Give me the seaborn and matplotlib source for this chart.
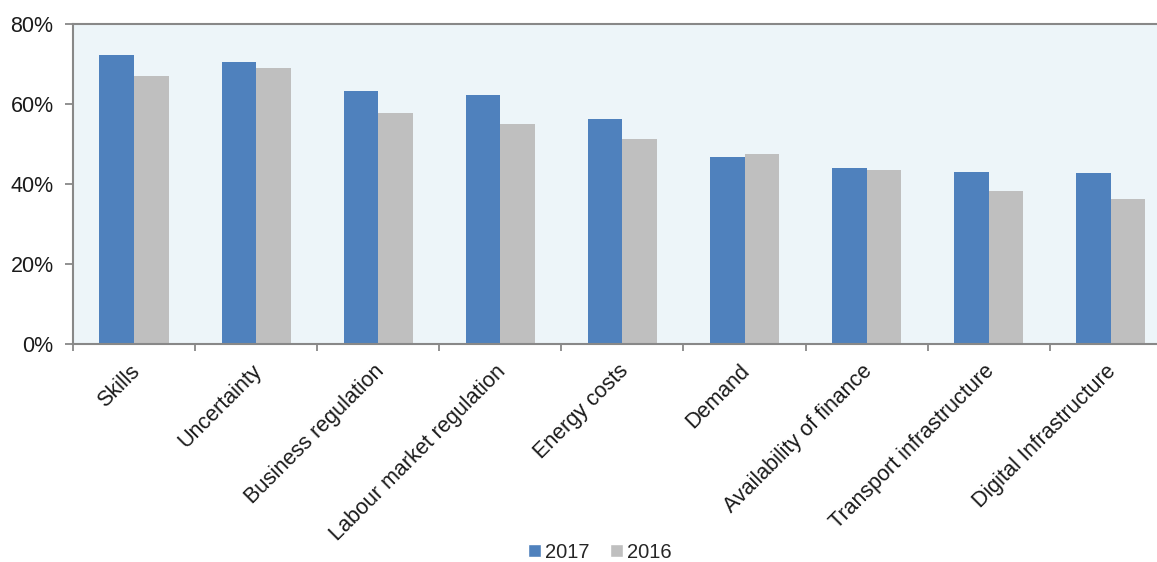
import matplotlib
matplotlib.use("Agg")
import matplotlib.pyplot as plt
import matplotlib.transforms as mtransforms
import seaborn as sns
import pandas as pd
from matplotlib.patches import Patch

categories = ["Skills", "Uncertainty", "Business regulation", "Labour market regulation",
              "Energy costs", "Demand", "Availability of finance",
              "Transport infrastructure", "Digital Infrastructure"]
values_2017 = [72.2, 70.6, 63.2, 62.3, 56.2, 46.7, 44.0, 42.9, 42.7]
values_2016 = [67.0, 68.9, 57.7, 54.9, 51.3, 47.5, 43.4, 38.2, 36.3]
series = ["2017", "2016"]
y_ticks = [0, 20, 40, 60, 80]

sns.set_theme(style="white")
plt.rcParams['font.family'] = ['Liberation Sans', 'DejaVu Sans']

df = pd.DataFrame({
    "category": categories * 2,
    "value": values_2017 + values_2016,
    "year": [series[0]] * len(categories) + [series[1]] * len(categories),
})

W, H = 1157, 562
fig = plt.figure(figsize=(W / 100, H / 100), dpi=100)
left, right, top, bottom = 73, 73 + 9 * 122.1, 24, 344
ax = fig.add_axes([left / W, (H - bottom) / H, (right - left) / W, (bottom - top) / H])
ax.set_facecolor("#EDF5F9")

sns.barplot(data=df, x="category", y="value", hue="year", hue_order=series,
            palette=["#4F81BD", "#BFBFBF"], width=0.566, gap=0, ax=ax,
            saturation=1, edgecolor="none", linewidth=0, errorbar=None, legend=False)

ax.set_xlim(-0.5, len(categories) - 0.5)
ax.set_ylim(0, 80)
ax.set_yticks(y_ticks)
ax.set_yticklabels([f"{v}%" for v in y_ticks], fontsize=15.5, color="#1a1a1a")
ax.set_xlabel("")
ax.set_ylabel("")

# major ticks at category boundaries, labels at centers (minor)
ax.set_xticks([i - 0.5 for i in range(len(categories) + 1)])
ax.set_xticklabels([])
ax.set_xticks(range(len(categories)), minor=True)
ax.set_xticklabels(categories, minor=True, rotation=45, ha="right", va="top",
                   rotation_mode="anchor", fontsize=15.5, color="#1a1a1a")
ax.tick_params(axis="x", which="major", length=5, width=1.3, color="#888888", direction="out", bottom=True)
ax.tick_params(axis="x", which="minor", length=0, pad=12)
ax.tick_params(axis="y", length=6, width=1.3, color="#888888", direction="out", left=True, pad=8)
offset = mtransforms.ScaledTranslation(-5 / 100, 0, fig.dpi_scale_trans)
for lab in ax.get_xticklabels(minor=True):
    lab.set_transform(lab.get_transform() + offset)

for side in ["left", "bottom", "top"]:
    ax.spines[side].set_color("#888888")
    ax.spines[side].set_linewidth(1.5)
ax.spines["right"].set_visible(False)

handles = [Patch(facecolor="#4F81BD"), Patch(facecolor="#BFBFBF")]
fig.legend(handles, series, loc="center", bbox_to_anchor=(600 / W, 1 - 552 / H),
           ncol=2, frameon=False, fontsize=14.5, handlelength=0.65, handleheight=0.65,
           handletextpad=0.2, columnspacing=1.0)

fig.savefig("out.png", dpi=100)
